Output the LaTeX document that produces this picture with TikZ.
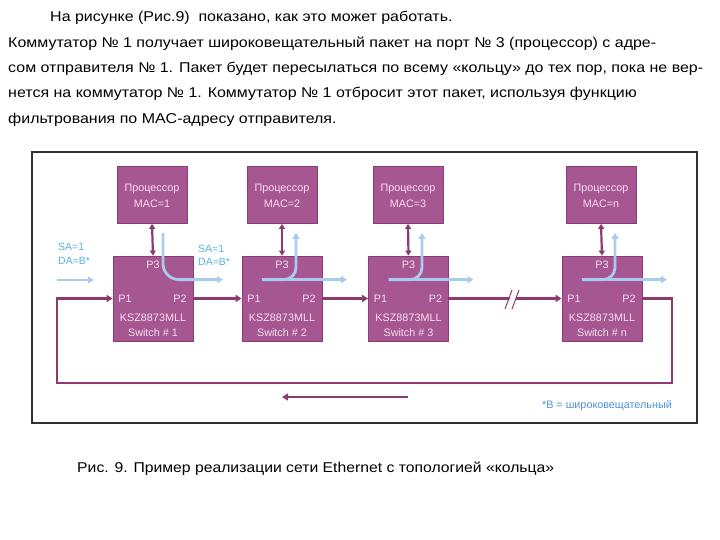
\documentclass[tikz,border=0pt]{standalone}
\usepackage{fontspec}
\setmainfont{Liberation Sans}
\usetikzlibrary{arrows.meta,calc}
\definecolor{boxfill}{HTML}{A65792}
\definecolor{boxline}{HTML}{8A3C78}
\definecolor{boxtext}{HTML}{F6DDEF}
\definecolor{ringc}{HTML}{8C3A70}
\definecolor{flowc}{HTML}{A9CCEC}
\definecolor{lblc}{HTML}{58B2E2}
\definecolor{legc}{HTML}{4A92D2}
\definecolor{framec}{HTML}{303030}
\tikzset{
  proc/.style={draw=boxline, line width=0.8pt, fill=boxfill, minimum width=70pt, minimum height=57pt, inner sep=0pt},
  sw/.style={draw=boxline, line width=0.8pt, fill=boxfill, minimum width=80pt, minimum height=85pt, inner sep=0pt},
  btxt/.style={text=boxtext, font=\fontsize{10.8}{12}\selectfont, inner sep=0pt},
  ring/.style={draw=ringc, line width=2.8pt, -{Triangle[length=6pt,width=7pt]}},
  bidir/.style={draw=ringc, line width=2.2pt, {Triangle[length=5pt,width=6pt]}-{Triangle[length=5pt,width=6pt]}},
  flow/.style={draw=flowc, line width=2.8pt, -{Triangle[length=6pt,width=7pt]}},
  lbl/.style={text=lblc, font=\fontsize{10.5}{12}\selectfont, inner sep=0pt, anchor=base west},
  para/.style={font=\fontsize{14.2}{16}\selectfont, inner sep=0pt, anchor=base west, xscale=1.125},
}
\begin{document}
\begin{tikzpicture}[x=1pt,y=-1pt]
\useasboundingbox (0,0) rectangle (720,540);
% text above
\node[para] (t1) at (50,22) {На рисунке (Рис.9) \ показано, как это может работать.};
\node[para] (t2) at (8,48) {Коммутатор № 1 получает широковещательный пакет на порт № 3 (процессор) с адре-};
\node[para] (t3) at (8,73) {сом отправителя № 1. Пакет будет пересылаться по всему «кольцу» до тех пор, пока не вер-};
\node[para] (t4) at (8,98) {нется на коммутатор № 1. Коммутатор № 1 отбросит этот пакет, используя функцию};
\node[para] (t5) at (8,124) {фильтрования по MAC-адресу отправителя.};
% frame
\draw[framec, line width=1.5pt] (32,152) rectangle (697,423);
\draw[framec, line width=2.5pt] (32,152) -- (32,423);
% processors
\foreach \n/\x/\m in {p1/152/1, p2/282/2, p3/408/3, pn/601/n}{
  \node[proc] (\n) at (\x,195) {};
  \node[btxt] at (\x,189) {Процессор};
  \node[btxt] at (\x,204) {MAC=\m};
}
% switches
\foreach \n/\x/\m in {s1/153/1, s2/282/2, s3/408.5/3, sn/602/n}{
  \node[sw] (\n) at (\x,298.5) {};
  \node[btxt] at (\x,265) {P3};
  \node[btxt] at (\x-28,299) {P1};
  \node[btxt] at (\x+27,299) {P2};
  \node[btxt] at (\x,318) {KSZ8873MLL};
  \node[btxt] at (\x,333) {Switch \# \m};
}
% processor-switch links
\foreach \k in {1,2,3,n}{
  \draw[bidir] (p\k.south) -- (s\k.north);
}
% ring
\draw[ring] (s1.east) -- (s2.west);
\draw[ring] (s2.east) -- (s3.west);
\draw[ring] (s3.east) -- (sn.west);
\coordinate (cBR) at (672,383);
\coordinate (cBL) at (57,383);
\draw[ring] (sn.east) -| (cBR) -- (cBL) |- (s1.west);
% break mark
\fill[white] (506,309) -- (512,309) -- (519,290) -- (513,290) -- cycle;
\draw[ringc, line width=1pt] (505,309) -- (512,290) (512,309) -- (519,290);
% return arrow at bottom
\coordinate (rA) at (408,397);
\coordinate (rB) at (282,397);
\draw[ring, line width=2.4pt] (rA) -- (rB);
% flows
\coordinate (in0) at (57,280);
\coordinate (in1) at (94,280);
\draw[flow] (in0) -- (in1);
\draw[flow, rounded corners=16pt] ($(p1.south)+(11,9)$) |- ($(s1.north)+(70,24)$);
\foreach \k in {2,3,n}{
  \draw[flow] ($(s\k.north)+(-20,24)$) -- ($(s\k.north)+(65,24)$);
  \draw[flow, rounded corners=12pt] ($(s\k.north)+(-20,24)$) -| ($(p\k.south)+(14,9)$);
}
% labels
\node[lbl] (l1a) at (58,251) {SA=1};
\node[lbl] (l1b) at (58,264) {DA=B*};
\node[lbl] (l2a) at (198,252) {SA=1};
\node[lbl] (l2b) at (198,265) {DA=B*};
\node[text=legc, font=\fontsize{10.8}{12}\selectfont, inner sep=0pt, anchor=base east] (leg) at (672,408) {*B = широковещательный};
% caption
\node[para, xscale=0.985] (cap) at (77,472) {Рис. 9. Пример реализации сети Ethernet с топологией «кольца»};
\end{tikzpicture}
\end{document}
